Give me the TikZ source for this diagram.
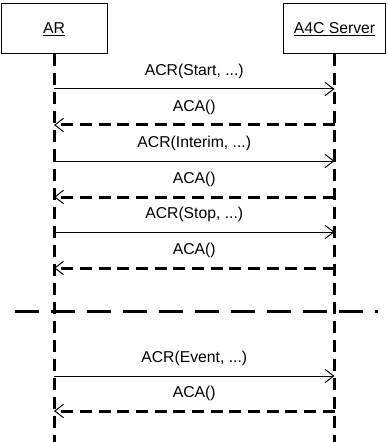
\documentclass[tikz,border=0pt]{standalone}
\usepackage{fontspec}
\setmainfont{Liberation Sans}
\usetikzlibrary{arrows.meta}

\begin{document}
\begin{tikzpicture}[x=0.75pt,y=-0.75pt,
        font=\fontsize{11.8}{14}\selectfont,
        actor/.style={draw,line width=0.75pt,minimum height=37.5pt,inner sep=0pt},
        lifeline/.style={line width=2.25pt,dash pattern=on 9pt off 5.25pt},
        req/.style={line width=0.75pt,-{Straight Barb[length=6.5pt,width=10pt]}},
        ans/.style={line width=2.25pt,dash pattern=on 9pt off 5pt,
            -{Straight Barb[length=6.5pt,width=10pt,line width=0.75pt]}},
        msg/.style={midway,yshift=13.5pt}]
        \useasboundingbox (0,0) rectangle (388,442);
        % actors and lifelines
        \node[actor,minimum width=79.5pt] (ar) at (54,29) {\underline{AR}};
        \node[actor,minimum width=76.5pt] (srv) at (334.5,29) {\underline{A4C Server}};
        \coordinate (bot) at (0,442);
        \draw[lifeline] (ar.south) -- (ar |- bot);
        \draw[lifeline] (srv.south) -- (srv |- bot);
        % message rows
        \coordinate (m1) at (0,89);
        \coordinate (m2) at (0,125);
        \coordinate (m3) at (0,161);
        \coordinate (m4) at (0,197);
        \coordinate (m5) at (0,232);
        \coordinate (m6) at (0,268);
        \coordinate (m7) at (0,376);
        \coordinate (m8) at (0,411);
        \draw[req] (ar |- m1) -- (srv |- m1) node[msg] {ACR(Start, ...)};
        \draw[ans] (srv |- m2) -- (ar |- m2) node[msg] {ACA()};
        \draw[req] (ar |- m3) -- (srv |- m3) node[msg] {ACR(Interim, ...)};
        \draw[ans] (srv |- m4) -- (ar |- m4) node[msg] {ACA()};
        \draw[req] (ar |- m5) -- (srv |- m5) node[msg] {ACR(Stop, ...)};
        \draw[ans] (srv |- m6) -- (ar |- m6) node[msg] {ACA()};
        % separator
        \coordinate (sepl) at (15,311);
        \coordinate (sepr) at (378,311);
        \draw[line width=2.25pt,dash pattern=on 18pt off 9pt] (sepl) -- (sepr);
        \draw[req] (ar |- m7) -- (srv |- m7) node[msg] {ACR(Event, ...)};
        \draw[ans] (srv |- m8) -- (ar |- m8) node[msg] {ACA()};
    \end{tikzpicture}
\end{document}
